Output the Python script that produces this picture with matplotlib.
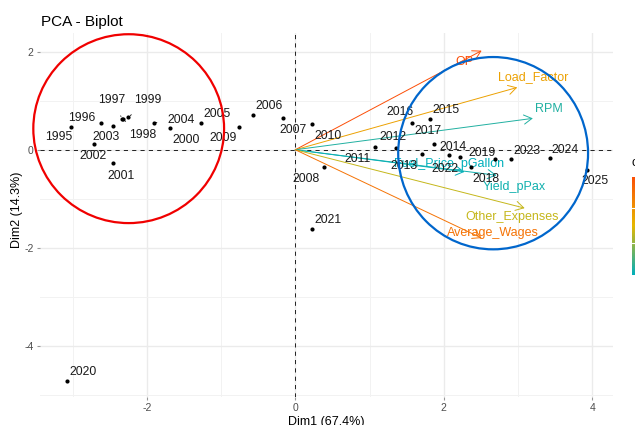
import numpy as np
import matplotlib
matplotlib.use("Agg")
import matplotlib.pyplot as plt
from matplotlib.patches import FancyArrowPatch, Ellipse, ArrowStyle
from matplotlib.colors import LinearSegmentedColormap, Normalize
from matplotlib.ticker import MultipleLocator

plt.rcParams['font.family'] = ['Liberation Sans', 'DejaVu Sans']
plt.rcParams['axes.unicode_minus'] = False

# individuals (years) on the first two dimensions
years = ['1995', '1996', '1997', '1998', '1999', '2000', '2001', '2002', '2003', '2004',
         '2005', '2006', '2007', '2008', '2009', '2010', '2011', '2012', '2013', '2014',
         '2015', '2016', '2017', '2018', '2019', '2020', '2021', '2022', '2023', '2024', '2025']
dim1 = [-3.02, -2.62, -2.33, -2.32, -2.25, -1.69, -2.45, -2.71, -2.45, -1.91,
        -1.27, -0.57, -0.17, 0.38, -0.76, 0.23, 1.07, 1.36, 1.71, 2.07,
        1.82, 1.57, 1.87, 2.37, 2.69, -3.08, 0.22, 2.22, 2.90, 3.43, 3.93]
dim2 = [0.46, 0.55, 0.63, 0.62, 0.66, 0.44, -0.26, 0.12, 0.48, 0.55,
        0.54, 0.71, 0.64, -0.35, 0.47, 0.52, 0.06, 0.03, -0.09, -0.11,
        0.62, 0.55, 0.11, -0.36, -0.19, -4.71, -1.62, -0.15, -0.18, -0.16, -0.41]

# variables
variables = ['OP', 'Load_Factor', 'RPM', 'Fuel_Price_pGallon', 'Yield_pPax',
             'Other_Expenses', 'Average_Wages']
var_dim1 = [2.51, 2.99, 3.20, 2.28, 2.71, 3.09, 2.51]
var_dim2 = [2.02, 1.27, 0.64, -0.45, -0.52, -1.19, -1.80]
contrib = [15.9, 14.8, 13.3, 13.1, 13.2, 14.3, 15.4]

# label placement, pixel offsets from the point (dx, dy up), with leader line flag
year_offsets = {
    '1995': (-12, -10, False), '1996': (-19, 5, False), '1997': (-11, 19, True),
    '1998': (20, -16, True), '1999': (19, 17, True), '2000': (16, -12, False),
    '2001': (8, -13, False), '2002': (-1, -12, False), '2003': (-7, -11, False),
    '2004': (28, 3, True), '2005': (16, 9, False), '2006': (16, 9, False),
    '2007': (10, -12, False), '2008': (-17, -12, False), '2009': (-16, -11, False),
    '2010': (16, -12, False), '2011': (-17, -12, False), '2012': (-3, 11, False),
    '2013': (-18, -12, False), '2014': (4, 8, False), '2015': (16, 9, False),
    '2016': (-12, 11, False), '2017': (-6, 13, False), '2018': (15, -12, False),
    '2019': (-13, 6, False), '2020': (16, 9, False), '2021': (16, 9, False),
    '2022': (-15, -12, False), '2023': (16, 8, False), '2024': (15, 8, False),
    '2025': (8, -11, False),
}
var_offsets = {
    'OP': (-17, -11), 'Load_Factor': (16, 10), 'RPM': (16, 9),
    'Fuel_Price_pGallon': (-15, 8), 'Yield_pPax': (18, -12),
    'Other_Expenses': (-13, -9), 'Average_Wages': (11, 5),
}

# highlighted groups: centre (dim1, dim2), half-width, half-height, colour
groups = [((-2.245, 0.43), 1.285, 1.925, '#F00000'),
          ((2.665, -0.07), 1.279, 1.96, '#0066CC')]

cmap = LinearSegmentedColormap.from_list('contrib', ['#00AFBB', '#E7B800', '#FC4E07'])
norm = Normalize(min(contrib), max(contrib))

fig = plt.figure(figsize=(6.35, 4.25), dpi=100)
ax = fig.add_axes([40 / 635, 28 / 425, 573 / 635, 364 / 425])
ax.set_xlim(-3.44, 4.28)
ax.set_ylim(-5.04, 2.38)

for s in ax.spines.values():
    s.set_visible(False)
ax.xaxis.set_major_locator(MultipleLocator(2))
ax.yaxis.set_major_locator(MultipleLocator(2))
ax.xaxis.set_minor_locator(MultipleLocator(1))
ax.yaxis.set_minor_locator(MultipleLocator(1))
ax.grid(which='major', color='#EBEBEB', lw=1.0)
ax.grid(which='minor', color='#F2F2F2', lw=0.7)
ax.set_axisbelow(True)
ax.tick_params(which='major', length=2.5, width=0.8, color='#999999',
               labelsize=7.5, labelcolor='#4D4D4D', pad=2)
ax.tick_params(which='minor', length=0)

ax.axhline(0, color='black', lw=0.6, ls=(0, (5, 5)), zorder=1)
ax.axvline(0, color='black', lw=0.6, ls=(0, (5, 5)), zorder=1)

# variable arrows
style = ArrowStyle('->', head_length=0.57, head_width=0.33)
for name, vx, vy, c in zip(variables, var_dim1, var_dim2, contrib):
    col = cmap(norm(c))
    ax.add_patch(FancyArrowPatch((0, 0), (vx, vy), arrowstyle=style, mutation_scale=10,
                                 color=col, lw=0.7, shrinkA=0, shrinkB=0, zorder=2))
    dx, dy = var_offsets[name]
    ax.annotate(name, (vx, vy), xytext=(dx, dy), textcoords='offset pixels',
                ha='center', va='center', color=col, fontsize=9, zorder=3)

# individuals
ax.scatter(dim1, dim2, s=9, color='black', zorder=4, linewidths=0)
for yr, x, y in zip(years, dim1, dim2):
    dx, dy, seg = year_offsets[yr]
    props = dict(arrowstyle='-', color='black', lw=0.6, shrinkA=6, shrinkB=2) if seg else None
    ax.annotate(yr, (x, y), xytext=(dx, dy), textcoords='offset pixels',
                ha='center', va='center', fontsize=8.8, color='#1A1A1A',
                arrowprops=props, zorder=5)

for (cx, cy), rx, ry, col in groups:
    ax.add_patch(Ellipse((cx, cy), 2 * rx, 2 * ry, fill=False, ec=col, lw=1.6,
                         zorder=6, clip_on=False))

fig.text(41 / 635, (425 - 26) / 425, 'PCA - Biplot', fontsize=11, va='baseline', ha='left')
fig.text(326.5 / 635, 9 / 425, 'Dim1 (67.4%)', fontsize=9, ha='center', va='top')
fig.text(17 / 635, 215 / 425, 'Dim2 (14.3%)', fontsize=9, rotation=90, ha='center', va='center')

# contrib colour bar (mostly outside the canvas)
cax = fig.add_axes([632 / 635, 150 / 425, 17 / 635, 98.3 / 425])
grad = np.linspace(norm.vmin, norm.vmax, 256)[:, None]
cax.imshow(grad, origin='lower', aspect='auto', cmap=cmap, norm=norm,
           extent=[0, 1, norm.vmin, norm.vmax])
for t in (14, 15):
    cax.axhline(t, xmin=0, xmax=0.2, color='white', lw=0.8)
cax.set_axis_off()
fig.text(632 / 635, (425 - 163) / 425, 'contrib', fontsize=9, ha='left', va='center')

fig.savefig('out.png', dpi=100)
